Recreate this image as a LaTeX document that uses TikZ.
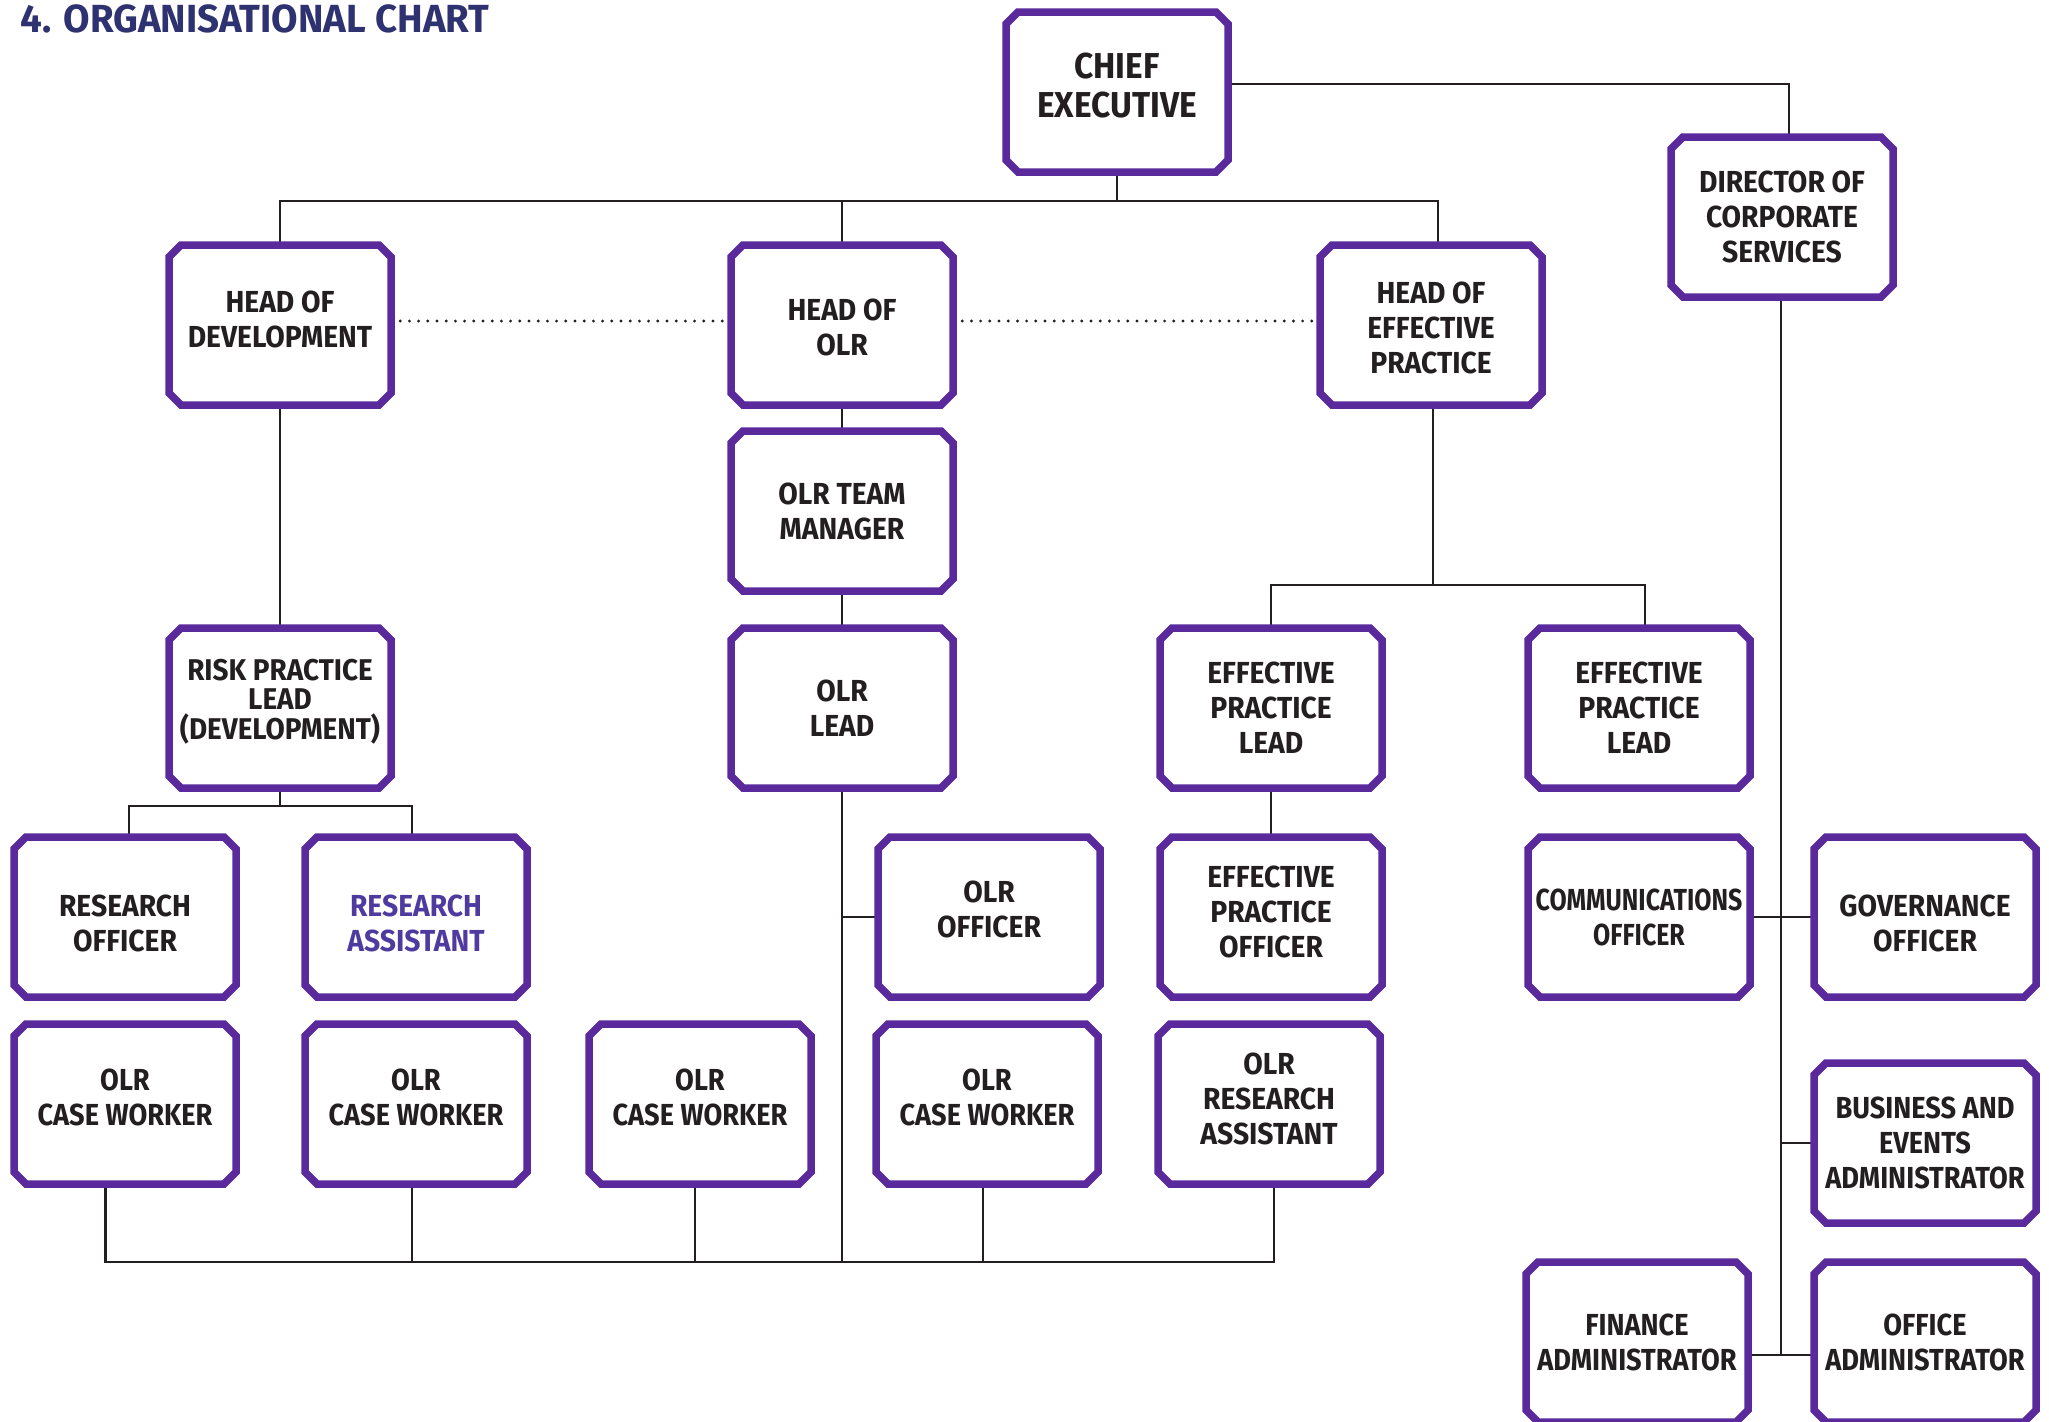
\documentclass[tikz,border=0pt]{standalone}
\usepackage{fontspec}
\newfontfamily\boxfont{Fira Sans}[FakeStretch=0.93]
\newfontfamily\tightfont{Fira Sans}[FakeStretch=0.82]
\newfontfamily\adminfont{Fira Sans}[FakeStretch=0.895]
\newfontfamily\titlefont{Fira Sans}[FakeStretch=0.98]
\definecolor{boxpurple}{HTML}{5A2A9C}
\definecolor{txtdark}{HTML}{231F20}
\definecolor{titlenavy}{HTML}{2E3270}
\definecolor{rapurple}{HTML}{4F3BA0}
\newcommand\myocto[1]{\draw[boxline] ([xshift=6pt]#1.north west) -- ([xshift=-6pt]#1.north east) -- ([yshift=-6pt]#1.north east) -- ([yshift=6pt]#1.south east) -- ([xshift=-6pt]#1.south east) -- ([xshift=6pt]#1.south west) -- ([yshift=6pt]#1.south west) -- ([yshift=-6pt]#1.north west) -- cycle;}
% #1 text shift (pt), #2 name, #3 position, #4 text style, #5 text
\newcommand\obox[5][0]{\node[orgbox] (#2) at (#3) {};
  \node[boxtext,#4] (#2-t) at ([yshift=#1pt]#2.center) {#5};}
\tikzset{
  orgbox/.style={rectangle, minimum width=111pt, minimum height=80pt, inner sep=0pt, outer sep=0pt},
  boxtext/.style={inner sep=0pt, align=center, text=txtdark, font=\boxfont\bfseries\fontsize{15.2}{17.5}\selectfont},
  tight/.style={font=\tightfont\bfseries\fontsize{15.2}{17.5}\selectfont},
  admin/.style={font=\adminfont\bfseries\fontsize{15.2}{17.5}\selectfont},
  boxline/.style={draw=boxpurple, line width=3.75pt, line join=miter},
  conn/.style={draw=txtdark, line width=1.2pt},
  dotconn/.style={draw=txtdark, line width=1.6pt, line cap=round, dash pattern=on 0pt off 4.6pt}
}
\begin{document}
\begin{tikzpicture}[x=0.5pt,y=-0.5pt]
\useasboundingbox (0,0) rectangle (2049,1421);
\fill[white] (0,0) rectangle (2049,1421);
\node[anchor=base west, inner sep=0pt, text=titlenavy, font=\titlefont\bfseries\fontsize{19.6}{22}\selectfont] (title) at (20,32) {4. ORGANISATIONAL CHART};

% boxes and their texts
\obox[3]{ce}{1117,92}{font=\boxfont\bfseries\fontsize{18}{19.5}\selectfont}{CHIEF\\EXECUTIVE}
\obox{dir}{1782,217}{}{DIRECTOR OF\\CORPORATE\\SERVICES}
\obox[2.6]{hdev}{280,325}{}{HEAD OF\\DEVELOPMENT}
\obox[-1.3]{holr}{842,325}{}{HEAD OF\\OLR}
\obox[-1.3]{hep}{1431,325}{}{HEAD OF\\EFFECTIVE\\PRACTICE}
\obox{tm}{842,511}{}{OLR TEAM\\MANAGER}
\obox[3.3]{risk}{280,708}{font=\boxfont\bfseries\fontsize{15}{14.7}\selectfont}{RISK PRACTICE\\LEAD\\(DEVELOPMENT)}
\obox{olrlead}{842,708}{}{OLR\\LEAD}
\obox{epl1}{1271,708}{}{EFFECTIVE\\PRACTICE\\LEAD}
\obox{epl2}{1639,708}{}{EFFECTIVE\\PRACTICE\\LEAD}
\obox[-3]{ro}{125,917}{}{RESEARCH\\OFFICER}
\obox[-3]{ra}{416,917}{text=rapurple}{RESEARCH\\ASSISTANT}
\obox[4]{olro}{989,917}{}{OLR\\OFFICER}
\obox[2.3]{epo}{1271,917}{}{EFFECTIVE\\PRACTICE\\OFFICER}
\obox{comm}{1639,917}{tight}{COMMUNICATIONS\\OFFICER}
\obox[-3]{gov}{1925,917}{}{GOVERNANCE\\OFFICER}
\obox[3.3]{cw1}{125,1104}{admin}{OLR\\CASE WORKER}
\obox[3.3]{cw2}{416,1104}{admin}{OLR\\CASE WORKER}
\obox[3.3]{cw3}{700,1104}{admin}{OLR\\CASE WORKER}
\obox[3.3]{cw4}{987,1104}{admin}{OLR\\CASE WORKER}
\obox[2.3]{olrra}{1269,1104}{}{OLR\\RESEARCH\\ASSISTANT}
\obox{bea}{1925,1143}{admin}{BUSINESS AND\\EVENTS\\ADMINISTRATOR}
\obox{fin}{1637,1342}{admin}{FINANCE\\ADMINISTRATOR}
\obox{off}{1925,1342}{admin}{OFFICE\\ADMINISTRATOR}

% connectors
\coordinate (bus1) at (1117,201);
\coordinate (busdev) at (280,806);
\coordinate (busep) at (1433,585);
\coordinate (busbot) at (842,1262);
\coordinate (dirbot) at (1781,1355);

\draw[conn] ([yshift=4pt]ce.east) -| ([xshift=3.5pt]dir.north);
\draw[conn] (ce.south) -- (bus1);
\draw[conn] (hdev.north) -- (hdev.north |- bus1) -- ([xshift=3.5pt]hep.north |- bus1) -- ([xshift=3.5pt]hep.north);
\draw[conn] (holr.north) -- (holr.north |- bus1);
\draw[dotconn] ([yshift=2pt]hdev.east) -- ([yshift=2pt]holr.west);
\draw[dotconn] ([yshift=2pt]holr.east) -- ([yshift=2pt]hep.west);

\draw[conn] (hdev.south) -- (risk.north);
\draw[conn] (risk.south) -- (busdev);
\draw[conn] ([xshift=2pt]ro.north) -- ([xshift=2pt]ro.north |- busdev) -- ([xshift=-2pt]ra.north |- busdev) -- ([xshift=-2pt]ra.north);

\draw[conn] (holr.south) -- (tm.north);
\draw[conn] (tm.south) -- (olrlead.north);
\draw[conn] (olrlead.south) -- (busbot);
\draw[conn] (olrlead.south |- olro.west) -- (olro.west);
\draw[conn] ([xshift=-9.75pt]cw1.south) -- ([xshift=-9.75pt]cw1.south |- busbot) -- ([xshift=2.5pt]olrra.south |- busbot) -- ([xshift=2.5pt]olrra.south);
\draw[conn] ([xshift=-2pt]cw2.south) -- ([xshift=-2pt]cw2.south |- busbot);
\draw[conn] ([xshift=-2.5pt]cw3.south) -- ([xshift=-2.5pt]cw3.south |- busbot);
\draw[conn] ([xshift=-2pt]cw4.south) -- ([xshift=-2pt]cw4.south |- busbot);

\draw[conn] ([xshift=1pt]hep.south) -- ([xshift=1pt]hep.south |- busep);
\draw[conn] (epl1.north) -- (epl1.north |- busep) -- ([xshift=3pt]epl2.north |- busep) -- ([xshift=3pt]epl2.north);
\draw[conn] (epl1.south) -- (epo.north);

\draw[conn] ([xshift=-0.5pt]dir.south) -- (dirbot);
\draw[conn] (comm.east) -- (gov.west);
\draw[conn] (dirbot |- bea.west) -- (bea.west);
\draw[conn] ([yshift=-6.5pt]fin.east) -- ([yshift=-6.5pt]off.west);

% box outlines
\foreach \n in {ce,dir,hdev,holr,hep,tm,risk,olrlead,epl1,epl2,ro,ra,olro,epo,comm,gov,cw1,cw2,cw3,cw4,olrra,bea,fin,off}{\myocto{\n}}
\end{tikzpicture}
\end{document}
